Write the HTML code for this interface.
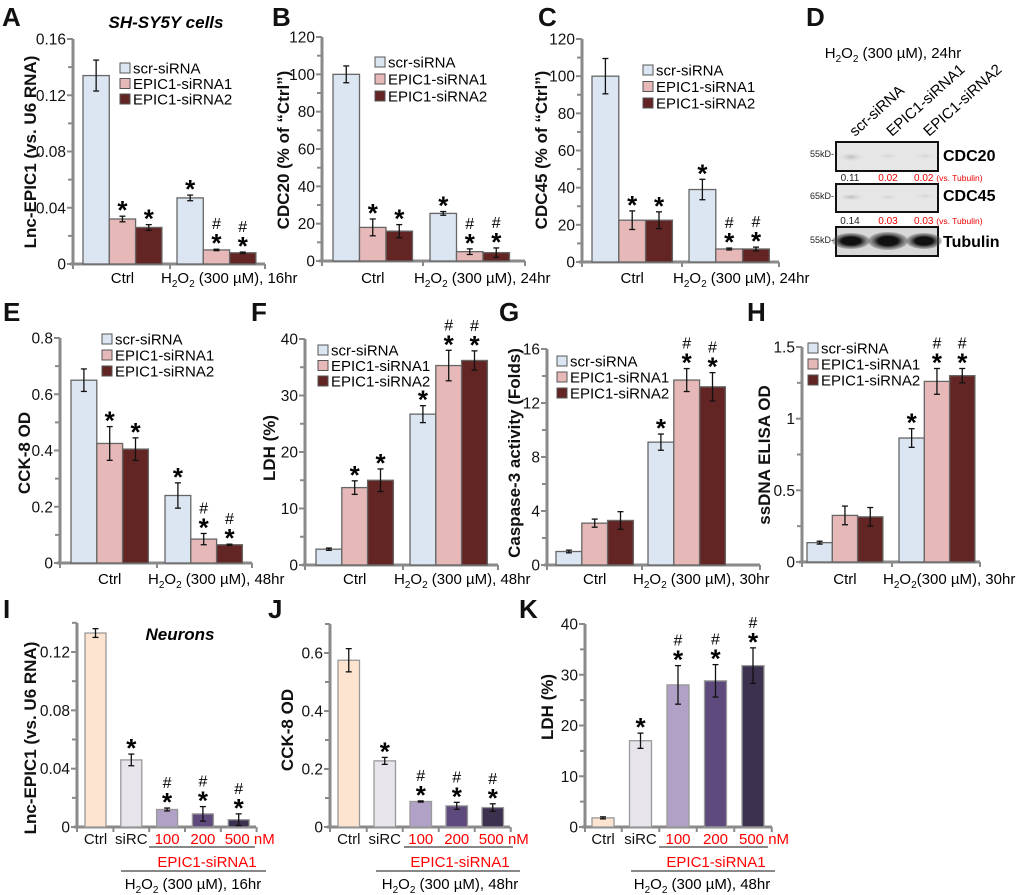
<!DOCTYPE html>
<html><head><meta charset="utf-8"><style>
body{margin:0;background:#fff}
svg{display:block;font-family:"Liberation Sans",Arial,sans-serif}
</style></head><body>
<svg id="fig" width="1020" height="895" viewBox="0 0 1020 895" xmlns="http://www.w3.org/2000/svg">
<g id="letters" font-weight="bold" font-size="26" fill="#111">
<text x="2" y="26">A</text>
<text x="272" y="26">B</text>
<text x="538" y="26">C</text>
<text x="806" y="26">D</text>
<text x="3" y="321">E</text>
<text x="251" y="321">F</text>
<text x="499" y="321">G</text>
<text x="747" y="321">H</text>
<text x="3" y="618">I</text>
<text x="268" y="618">J</text>
<text x="519" y="618">K</text>
</g>
<text x="166" y="28" font-size="17" font-weight="bold" font-style="italic" text-anchor="middle">SH-SY5Y cells</text>
<text x="180" y="640" font-size="17" font-weight="bold" font-style="italic" text-anchor="middle">Neurons</text>

<g id="blot">
<defs>
<radialGradient id="fb"><stop offset="0" stop-color="#bbb"/><stop offset="1" stop-color="#e4e4e4" stop-opacity="0"/></radialGradient>
<radialGradient id="vf"><stop offset="0" stop-color="#d2d2d2"/><stop offset="1" stop-color="#e4e4e4" stop-opacity="0"/></radialGradient>
<radialGradient id="tb"><stop offset="0.5" stop-color="#111"/><stop offset="1" stop-color="#555" stop-opacity="0.3"/></radialGradient>
</defs>
<text x="893" y="58" font-size="15" text-anchor="middle">H<tspan font-size="10" dy="4">2</tspan><tspan dy="-4">O</tspan><tspan font-size="10" dy="4">2</tspan><tspan dy="-4"> (300 µM), 24hr</tspan></text>
<text transform="translate(855,137) rotate(-42)" font-size="15">scr-siRNA</text>
<text transform="translate(892,137) rotate(-42)" font-size="15">EPIC1-siRNA1</text>
<text transform="translate(929,137) rotate(-42)" font-size="15">EPIC1-siRNA2</text>
<rect x="836" y="142" width="102" height="29" fill="#e6e6e6" stroke="#111" stroke-width="2"/>
<ellipse cx="851" cy="157" rx="14" ry="5" fill="url(#fb)"/>
<ellipse cx="888" cy="156" rx="12" ry="3" fill="url(#vf)"/>
<ellipse cx="925" cy="156" rx="12" ry="3" fill="url(#vf)"/>
<rect x="836" y="184" width="102" height="28" fill="#e6e6e6" stroke="#111" stroke-width="2"/>
<ellipse cx="851" cy="197" rx="14" ry="4" fill="url(#fb)"/>
<ellipse cx="888" cy="197" rx="12" ry="3" fill="url(#vf)"/>
<ellipse cx="925" cy="196" rx="12" ry="3" fill="url(#vf)"/>
<rect x="836" y="227" width="102" height="29" fill="#d8d8d8" stroke="#111" stroke-width="2"/>
<ellipse cx="851" cy="241" rx="19" ry="8" fill="url(#tb)"/>
<ellipse cx="888" cy="241" rx="20" ry="9" fill="url(#tb)"/>
<ellipse cx="924" cy="241" rx="18" ry="8" fill="url(#tb)"/>
<g font-size="9" fill="#222" text-anchor="end">
<text x="834" y="157">55kD-</text><text x="834" y="199">65kD-</text><text x="834" y="243">55kD-</text>
</g>
<g font-size="16" font-weight="bold">
<text x="943" y="161">CDC20</text>
<text x="943" y="201">CDC45</text>
<text x="943" y="247">Tubulin</text>
</g>
<g font-size="10" text-anchor="middle">
<text x="850" y="181" fill="#222">0.11</text><text x="888" y="181" fill="#e00">0.02</text><text x="914" y="181" fill="#e00" text-anchor="start">0.02 <tspan font-size="8.5">(vs. Tubulin)</tspan></text>
<text x="850" y="224" fill="#222">0.14</text><text x="888" y="224" fill="#e00">0.03</text><text x="914" y="224" fill="#e00" text-anchor="start">0.03 <tspan font-size="8.5">(vs. Tubulin)</tspan></text>
</g>
</g>
</svg>
<script>
// ---- data ----
const seriesNames = ['scr-siRNA','EPIC1-siRNA1','EPIC1-siRNA2'];
const groupLabels = ['Ctrl','H2O2'];
const aVals = [0.134,0.032,0.026,0.047,0.010,0.008];
const aErr  = [0.011,0.002,0.002,0.002,0.0005,0.0005];
const aSig  = ['','*','*','*','#*','#*'];
const aTicks = ['0','0.04','0.08','0.12','0.16'];
const bVals = [100,18,16,25.5,5,4.5];
const bErr  = [4.5,4.5,3.5,1,1.5,2.5];
const bSig  = ['','*','*','*','#*','#*'];
const bTicks = ['0','20','40','60','80','100','120'];
const cVals = [100,22.5,22.5,39,7,7];
const cErr  = [9.5,5,4.5,5.5,0.5,1];
const cSig  = ['','*','*','*','#*','#*'];
const cTicks = ['0','20','40','60','80','100','120'];
const eVals = [0.65,0.425,0.405,0.24,0.085,0.065];
const eErr  = [0.04,0.06,0.04,0.045,0.02,0.002];
const eSig  = ['','*','*','*','#*','#*'];
const eTicks = ['0','0.2','0.4','0.6','0.8'];
const fVals = [2.8,13.7,15,26.7,35.3,36.2];
const fErr  = [0.2,1.2,2,1.5,2.7,1.7];
const fSig  = ['','*','*','*','#*','#*'];
const fTicks = ['0','10','20','30','40'];
const gVals = [1,3.1,3.3,9.1,13.7,13.2];
const gErr  = [0.1,0.3,0.65,0.6,0.85,1.05];
const gSig  = ['','','','*','#*','#*'];
const gTicks = ['0','4','8','12','16'];
const hVals = [0.135,0.325,0.315,0.865,1.26,1.3];
const hErr  = [0.01,0.065,0.065,0.065,0.09,0.05];
const hSig  = ['','','','*','#*','#*'];
const hTicks = ['0','0.5','1','1.5'];
const neuronCats = ['Ctrl','siRC','100','200','500 nM'];
const iVals = [0.133,0.046,0.012,0.009,0.005];
const iErr  = [0.003,0.004,0.001,0.005,0.004];
const iSig  = ['','*','#*','#*','#*'];
const iTicks = ['0','0.04','0.08','0.12'];
const jVals = [0.575,0.228,0.088,0.073,0.067];
const jErr  = [0.04,0.012,0.002,0.012,0.013];
const jSig  = ['','*','#*','#*','#*'];
const jTicks = ['0','0.2','0.4','0.6'];
const kVals = [1.8,17,28,28.8,31.8];
const kErr  = [0.2,1.5,3.8,3.2,3.5];
const kSig  = ['','*','#*','#*','#*'];
const kTicks = ['0','10','20','30','40'];

const NS='http://www.w3.org/2000/svg';
const svg=document.getElementById('fig');
function mk(tag,attrs,parent){const e=document.createElementNS(NS,tag);for(const k in attrs)e.setAttribute(k,attrs[k]);(parent||svg).appendChild(e);return e;}
const grpColors=['#dce6f2','#e6b9b8','#632523'];
const neuColors=['#fce4d0','#e8e4ec','#b1a1c7','#5f4a7d','#3d3150'];

function h2o2(parent,x,y,suffix,anchor,name){
  const t=mk('text',{x:x,y:y,'font-size':15,'text-anchor':anchor||'start'},parent);
  
  
  t.innerHTML='H<tspan font-size="10" dy="4">2</tspan><tspan dy="-4">O</tspan><tspan font-size="10" dy="4">2</tspan><tspan dy="-4">'+suffix+'</tspan>';
}

function axes(g,p,ticks,yf,top){
  const gray='#8a8a8a';
  mk('line',{x1:p.ax,y1:yf(top),x2:p.ax,y2:p.y0+1,stroke:gray,'stroke-width':3},g);
  mk('line',{x1:p.ax-3,y1:p.y0,x2:p.xEnd,y2:p.y0,stroke:gray,'stroke-width':3},g);
  const tv=ticks.map(Number);
  const step=tv[1]-tv[0];
  for(let v=0;v<=top+1e-9;v+=step/2){
    const major=Math.abs(Math.round(v/step)*step-v)<1e-9;
    mk('line',{x1:p.ax-(major?6:5),y1:yf(v),x2:p.ax,y2:yf(v),stroke:gray,'stroke-width':2},g);
  }
  ticks.forEach((s)=>{
    const lab=mk('text',{x:p.ax-7,y:yf(Number(s))+5.5,'font-size':15.5,'text-anchor':'end',fill:'#111'},g);
    
    
    lab.textContent=s;
  });
  const tt=mk('text',{transform:`translate(${p.tx},${p.ty}) rotate(-90)`,'font-size':17,'font-weight':'bold','text-anchor':'middle',fill:'#111'},g);
  
  
  tt.textContent=p.title;
}

function bar(g,x,w,v,e,sig,yf,fill,stroke){
  const r=mk('rect',{x:x,y:yf(v),width:w,height:Math.max(0,yf(0)-yf(v)),fill:fill,stroke:stroke,'stroke-width':1.3},g);
  
  
  const cx=x+w/2, t=yf(v+e), b=yf(v-e);
  mk('line',{x1:cx,y1:t,x2:cx,y2:b,stroke:'#111','stroke-width':1.3},g);
  mk('line',{x1:cx-3,y1:t,x2:cx+3,y2:t,stroke:'#111','stroke-width':1.3},g);
  mk('line',{x1:cx-3,y1:b,x2:cx+3,y2:b,stroke:'#111','stroke-width':1.3},g);
  if(sig.includes('*')){
    const s=mk('text',{x:cx,y:t+3,'font-size':26,'font-weight':'bold','text-anchor':'middle'},g);
    
    
    s.textContent='*';
  }
  if(sig.includes('#')){
    const h=mk('text',{x:cx,y:t-20,'font-size':16,'text-anchor':'middle'},g);
    
    
    h.textContent='#';
  }
}

function grouped(p,vals,errs,sigs,ticks){
  const g=mk('g',{});
  
  
  const max=Number(ticks[ticks.length-1]);
  const yf=v=>p.y0-(v/max)*(p.y0-p.yT);
  axes(g,p,ticks,yf,max);
  [p.ax,p.sep,p.xEnd].forEach(x=>mk('line',{x1:x,y1:p.y0,x2:x,y2:p.y0+5,stroke:'#8a8a8a','stroke-width':2},g));
  vals.forEach((v,i)=>{
    const gi=Math.floor(i/3), si=i%3;
    bar(g,p.start+gi*p.gs+si*p.bw,p.bw,v,errs[i],sigs[i],yf,grpColors[si],'#666');
  });
  const c1=mk('text',{x:p.start+1.5*p.bw,y:p.xly,'font-size':15,'text-anchor':'middle'},g);
  
  
  c1.textContent=groupLabels[0];
  h2o2(g,p.sep-9,p.xly,p.h2suffix,'start','x-label-h2o2');
  seriesNames.forEach((n,i)=>{
    const ly=p.ly+i*p.ldy;
    const sq=mk('rect',{x:p.lx,y:ly-5,width:10,height:10,fill:grpColors[i],stroke:'#555','stroke-width':1},g);
    
    
    const t=mk('text',{x:p.lx+13,y:ly+5.5,'font-size':15},g);
    
    
    t.textContent=n;
  });
}

function neuron(p,vals,errs,sigs,ticks){
  const g=mk('g',{});
  
  
  const max=Number(ticks[ticks.length-1]);
  const yf=v=>p.y0-(v/max)*(p.y0-p.yT);
  axes(g,p,ticks,yf,p.axTop);
  vals.forEach((v,i)=>{
    const x=p.start+i*p.step;
    bar(g,x,p.bw,v,errs[i],sigs[i],yf,neuColors[i],'#999');
    const sx=x+p.bw+(p.step-p.bw)/2;
    mk('line',{x1:sx,y1:p.y0,x2:sx,y2:p.y0+5,stroke:'#8a8a8a','stroke-width':2},g);
    const red=i>=2;
    const lab=mk('text',{x:i===4?x+p.bw/2-14:x+p.bw/2,y:844,'font-size':15,'text-anchor':i===4?'start':'middle',fill:red?'#f00':'#111'},g);
    
    
    lab.textContent=neuronCats[i];
  });
  mk('line',{x1:p.ax,y1:p.y0,x2:p.ax,y2:p.y0+5,stroke:'#8a8a8a','stroke-width':2},g);
  mk('line',{x1:p.l1[0],y1:847,x2:p.l1[1],y2:847,stroke:'#888','stroke-width':2},g);
  mk('line',{x1:p.l2[0],y1:871,x2:p.l2[1],y2:871,stroke:'#888','stroke-width':2},g);
  const e=mk('text',{x:p.ec,y:867,'font-size':15,'text-anchor':'middle',fill:'#f00'},g);
  
  
  e.textContent='EPIC1-siRNA1';
  h2o2(g,p.hc,889,' (300 µM), '+p.hr,'middle','treatment-label');
}

grouped({name:'panel-a-chart',ax:73,y0:264,yT:39,xEnd:265,sep:170,start:83,bw:26.3,gs:94,lx:120,ly:68,ldy:15.5,tx:36,ty:152,title:'Lnc-EPIC1 (vs. U6 RNA)',xly:283,h2suffix:' (300 µM), 16hr'},aVals,aErr,aSig,aTicks);
grouped({name:'panel-b-chart',ax:322,y0:261,yT:37,xEnd:525,sep:423,start:333,bw:26.5,gs:97,lx:375,ly:62,ldy:17,tx:289,ty:150,title:'CDC20 (% of “Ctrl”)',xly:283,h2suffix:' (300 µM), 24hr'},bVals,bErr,bSig,bTicks);
grouped({name:'panel-c-chart',ax:582,y0:262,yT:39,xEnd:779,sep:682,start:592,bw:26.8,gs:97,lx:643,ly:70,ldy:16.5,tx:547,ty:150,title:'CDC45 (% of “Ctrl”)',xly:283,h2suffix:' (300 µM), 24hr'},cVals,cErr,cSig,cTicks);
grouped({name:'panel-e-chart',ax:60,y0:563,yT:338,xEnd:252,sep:157,start:71,bw:25.8,gs:94,lx:102,ly:339,ldy:16,tx:30,ty:453,title:'CCK-8 OD',xly:584,h2suffix:' (300 µM), 48hr'},eVals,eErr,eSig,eTicks);
grouped({name:'panel-f-chart',ax:305,y0:565,yT:339,xEnd:498,sep:403,start:316,bw:25.8,gs:94,lx:318,ly:350,ldy:15.5,tx:275,ty:448,title:'LDH (%)',xly:584,h2suffix:' (300 µM), 48hr'},fVals,fErr,fSig,fTicks);
grouped({name:'panel-g-chart',ax:547,y0:565,yT:349,xEnd:760,sep:642,start:556,bw:25.8,gs:92,lx:557,ly:361,ldy:16,tx:520,ty:453,title:'Caspase-3 activity (Folds)',xly:584,h2suffix:' (300 µM), 30hr'},gVals,gErr,gSig,gTicks);
grouped({name:'panel-h-chart',ax:802,y0:562,yT:347,xEnd:980,sep:892,start:807,bw:25.3,gs:92,lx:808,ly:348,ldy:16,tx:770,ty:455,title:'ssDNA ELISA OD',xly:584,h2suffix:'(300 µM), 30hr'},hVals,hErr,hSig,hTicks);
neuron({name:'panel-i-chart',ax:77,y0:827,yT:652,axTop:0.14,start:85,bw:21,step:35.8,tx:36,ty:738,title:'Lnc-EPIC1 (vs. U6 RNA)',xEnd:256,l1:[149,255],l2:[121,266],ec:207,hc:193,hr:'16hr'},iVals,iErr,iSig,iTicks);
neuron({name:'panel-j-chart',ax:330,y0:827,yT:653,axTop:0.7,start:338,bw:21.5,step:36,tx:293,ty:730,title:'CCK-8 OD',xEnd:510,l1:[404,513],l2:[376,520],ec:460,hc:450,hr:'48hr'},jVals,jErr,jSig,jTicks);
neuron({name:'panel-k-chart',ax:585,y0:827,yT:624,axTop:40,start:592,bw:22,step:37.5,tx:553,ty:707,title:'LDH (%)',xEnd:772,l1:[659,768],l2:[631,775],ec:716,hc:702,hr:'48hr'},kVals,kErr,kSig,kTicks);
</script>
</body></html>
